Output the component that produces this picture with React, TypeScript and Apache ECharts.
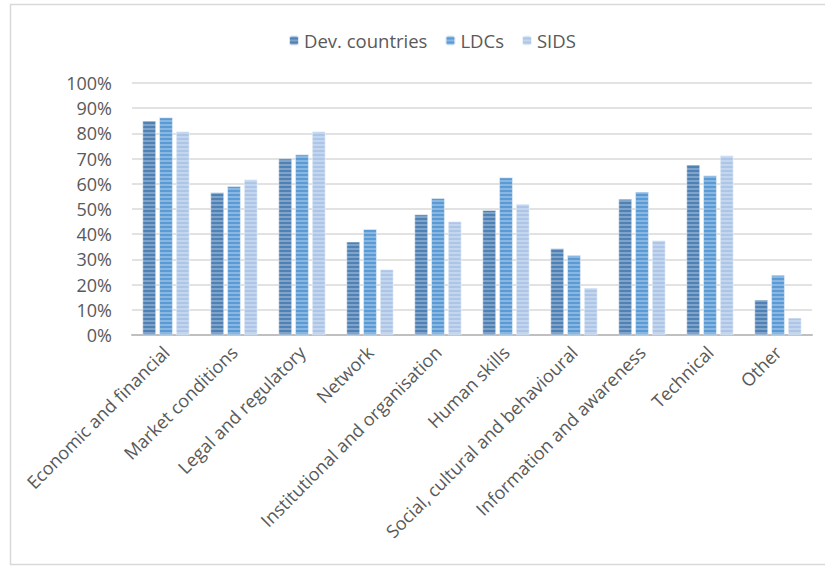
import React, { useEffect, useRef } from "react";
import * as echarts from "echarts";

const categories = [
  "Economic and financial",
  "Market conditions",
  "Legal and regulatory",
  "Network",
  "Institutional and organisation",
  "Human skills",
  "Social, cultural and behavioural",
  "Information and awareness",
  "Technical",
  "Other",
];
const devCountries = [85, 56.5, 70, 37, 47.8, 49.5, 34.3, 54, 67.6, 14];
const ldcs = [86.3, 59, 71.6, 42, 54.3, 62.5, 31.6, 56.8, 63.3, 23.8];
const sids = [80.8, 61.7, 80.8, 26, 45, 52, 18.7, 37.5, 71.2, 6.8];
const yTicks = [0, 10, 20, 30, 40, 50, 60, 70, 80, 90, 100];

const FONT = "'Open Sans', sans-serif";
const stripe = {
  symbol: "rect",
  dashArrayX: [1, 0],
  dashArrayY: [2, 1.5],
  rotation: 0,
  color: "rgba(255,255,255,0.28)",
};

export default function App() {
  const ref = useRef<HTMLDivElement>(null);
  useEffect(() => {
    const chart = echarts.init(ref.current!, undefined, { renderer: "svg" });
    const mk = (name: string, data: number[], color: string) => ({
      name,
      type: "bar",
      data,
      barGap: "25%",
      barCategoryGap: "31%",
      itemStyle: { color, decal: stripe, borderColor: "rgba(255,255,255,0.5)", borderWidth: 0.5 },
    });
    chart.setOption({
      animation: false,
      aria: { enabled: false },
      graphic: [
        {
          type: "rect",
          shape: { x: 10.5, y: 4.5, width: 830, height: 560 },
          style: { fill: "none", stroke: "#d9d9d9", lineWidth: 1.5 },
          silent: true,
        },
      ],
      legend: {
        top: 26,
        left: 283,
        itemWidth: 10,
        itemHeight: 10,
        itemGap: 17,
        textStyle: { fontFamily: FONT, fontSize: 18.5, color: "#595959" },
        data: ["Dev. countries", "LDCs", "SIDS"],
      },
      grid: { left: 132, right: 13, top: 83, bottom: 231, containLabel: false },
      xAxis: {
        type: "category",
        data: categories,
        axisTick: { show: false },
        axisLine: { lineStyle: { color: "#bfbfbf", width: 2 } },
        axisLabel: {
          rotate: 45,
          interval: 0,
          margin: 14,
          fontFamily: FONT,
          fontSize: 18,
          color: "#595959",
        },
      },
      yAxis: {
        type: "value",
        min: 0,
        max: 100,
        interval: 10,
        axisLine: { show: false },
        axisTick: { show: false },
        splitLine: { lineStyle: { color: "#d9d9d9", width: 1.5 } },
        axisLabel: {
          margin: 20,
          fontFamily: FONT,
          fontSize: 18,
          color: "#595959",
          formatter: (v: number) => (yTicks.includes(v) ? v + "%" : ""),
        },
      },
      series: [
        mk("Dev. countries", devCountries, "#4f81b4"),
        mk("LDCs", ldcs, "#5b9bd5"),
        mk("SIDS", sids, "#adc6e8"),
      ],
    });
    return () => chart.dispose();
  }, []);
  return <div ref={ref} style={{ width: 825, height: 566, position: "absolute", left: 0, top: 0 }} />;
}
